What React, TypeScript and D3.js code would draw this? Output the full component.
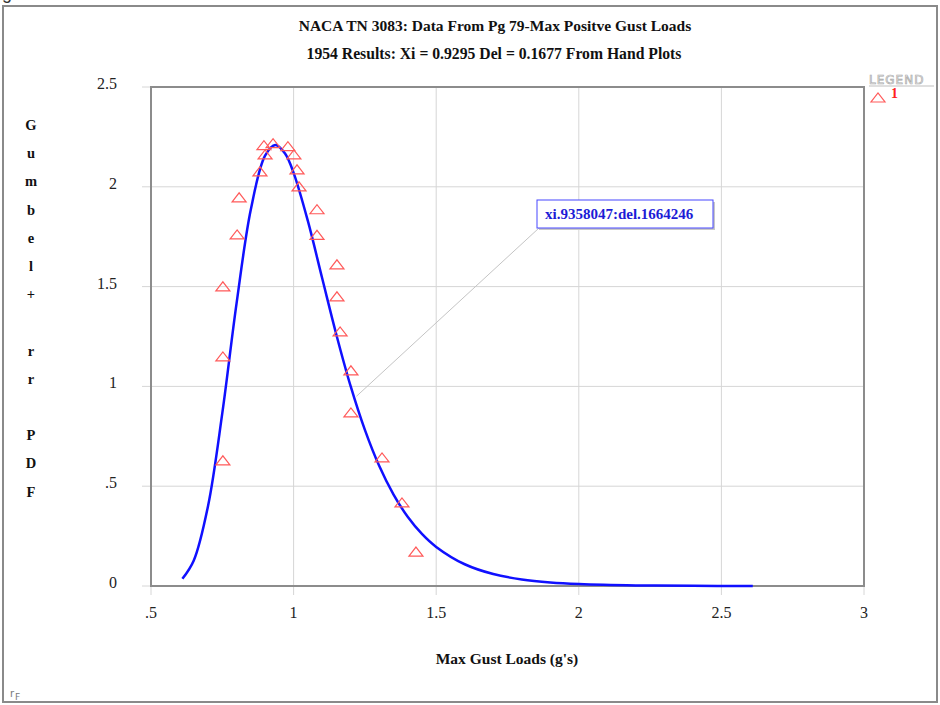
import React from "react";
import * as d3 from "d3";

const obsX = [0.896, 0.928, 0.98, 0.9, 1.001, 0.882, 1.012, 1.019, 0.809, 1.082, 0.802, 1.082, 1.152, 0.752, 1.152, 0.752, 1.163, 1.201, 1.201, 0.752, 1.31, 1.38, 1.429];
const obsY = [2.206, 2.216, 2.201, 2.16, 2.16, 2.075, 2.085, 2.0, 1.945, 1.885, 1.759, 1.757, 1.609, 1.499, 1.449, 1.148, 1.273, 1.078, 0.867, 0.627, 0.642, 0.416, 0.17];

// fitted gumbel curve
const fitX = [0.61, 0.65, 0.7, 0.75, 0.8, 0.85, 0.9, 0.936, 0.97, 1.0, 1.05, 1.1, 1.15, 1.2, 1.25, 1.3, 1.35, 1.4, 1.45, 1.5, 1.6, 1.7, 1.8, 1.9, 2.0, 2.2, 2.4, 2.61];
const fitY = [0.036, 0.128, 0.401, 0.866, 1.416, 1.886, 2.156, 2.21, 2.167, 2.07, 1.829, 1.543, 1.259, 1.001, 0.782, 0.602, 0.459, 0.347, 0.261, 0.196, 0.109, 0.06, 0.033, 0.018, 0.01, 0.003, 0.001, 0.0003];

const xTicks = [0.5, 1, 1.5, 2, 2.5, 3];
const xTickLabels = [".5", "1", "1.5", "2", "2.5", "3"];
const yTicks = [0, 0.5, 1, 1.5, 2, 2.5];
const yTickLabels = ["0", ".5", "1", "1.5", "2", "2.5"];
const yTitle = ["G", "u", "m", "b", "e", "l", "+", "", "r", "r", "", "P", "D", "F"];

const title = "NACA TN 3083: Data From Pg 79-Max Positve Gust Loads";
const subtitle = "1954 Results: Xi = 0.9295 Del = 0.1677 From Hand Plots";
const xTitle = "Max Gust Loads (g's)";
const noteText = "xi.9358047:del.1664246";
const notePoint = [1.22, 0.95];

export default function App() {
  const svgRef = React.useRef(null);
  const width = 940;
  const height = 705;

  React.useEffect(() => {
    const x = d3.scaleLinear().domain([0.5, 3]).range([151, 864]);
    const y = d3.scaleLinear().domain([0, 2.5]).range([586, 87]);

    const svg = d3.select(svgRef.current);
    svg.selectAll("*").remove();

    const serif = "'Liberation Serif', 'Times New Roman', serif";

    svg.append("rect").attr("width", width).attr("height", height).attr("fill", "white");

    // outer frame
    svg.append("rect")
      .attr("x", 3).attr("y", 6).attr("width", 934).attr("height", 696)
      .attr("fill", "none").attr("stroke", "#8a8a8a").attr("stroke-width", 2);

    // fragment of caption above
    svg.append("text").attr("x", 2).attr("y", -1).attr("font-size", 18)
      .attr("font-family", "Arial, sans-serif").attr("fill", "#333").text("g");

    // titles
    svg.append("text").attr("x", 495).attr("y", 31).attr("text-anchor", "middle")
      .attr("font-family", serif).attr("font-weight", "bold").attr("font-size", 15.5)
      .attr("fill", "#111").text(title);
    svg.append("text").attr("x", 494).attr("y", 59).attr("text-anchor", "middle")
      .attr("font-family", serif).attr("font-weight", "bold").attr("font-size", 15.7)
      .attr("fill", "#111").text(subtitle);

    // grid
    const grid = svg.append("g").attr("stroke", "#d6d6d6").attr("stroke-width", 1);
    grid.selectAll("line.v").data(xTicks).enter().append("line")
      .attr("x1", d => x(d)).attr("x2", d => x(d))
      .attr("y1", y(2.5)).attr("y2", y(0) + 9);
    grid.selectAll("line.h").data(yTicks).enter().append("line")
      .attr("x1", x(0.5) - 9).attr("x2", x(3))
      .attr("y1", d => y(d)).attr("y2", d => y(d));

    // plot frame
    svg.append("rect")
      .attr("x", x(0.5)).attr("y", y(2.5))
      .attr("width", x(3) - x(0.5)).attr("height", y(0) - y(2.5))
      .attr("fill", "none").attr("stroke", "#8c8c8c").attr("stroke-width", 2);

    // tick labels
    svg.selectAll("text.xt").data(xTicks).enter().append("text")
      .attr("x", d => x(d)).attr("y", 618).attr("text-anchor", "middle")
      .attr("font-family", serif).attr("font-size", 16).attr("fill", "#222")
      .text((d, i) => xTickLabels[i]);
    svg.selectAll("text.yt").data(yTicks).enter().append("text")
      .attr("x", 117).attr("y", d => y(d) + 2).attr("text-anchor", "end")
      .attr("font-family", serif).attr("font-size", 16).attr("fill", "#222")
      .text((d, i) => yTickLabels[i]);

    // axis titles
    svg.append("text").attr("x", 507).attr("y", 664).attr("text-anchor", "middle")
      .attr("font-family", serif).attr("font-weight", "bold").attr("font-size", 15.5)
      .attr("fill", "#111").text(xTitle);
    svg.selectAll("text.ytl").data(yTitle).enter().append("text")
      .attr("x", 31).attr("y", (d, i) => 130 + i * 28.2).attr("text-anchor", "middle")
      .attr("font-family", serif).attr("font-weight", "bold").attr("font-size", 14.5)
      .attr("fill", "#111").text(d => d);

    // annotation leader + box
    svg.append("line")
      .attr("x1", x(notePoint[0])).attr("y1", y(notePoint[1]))
      .attr("x2", 539).attr("y2", 228)
      .attr("stroke", "#c4c4c4").attr("stroke-width", 1);

    // fitted curve
    const line = d3.line<number>()
      .x((d, i) => x(fitX[i]))
      .y(d => y(d))
      .curve(d3.curveCatmullRom);
    svg.append("path").datum(fitY).attr("d", line)
      .attr("fill", "none").attr("stroke", "#1010ff").attr("stroke-width", 2.5);

    // triangles
    const tri = "M-7,4L7,4L0,-5Z";
    svg.selectAll("path.tri").data(obsX).enter().append("path")
      .attr("d", tri)
      .attr("transform", (d, i) => `translate(${x(d)},${y(obsY[i])})`)
      .attr("fill", "none").attr("stroke", "#ff5a5a").attr("stroke-width", 1.2);

    svg.append("rect").attr("x", 539).attr("y", 202).attr("width", 176).attr("height", 28)
      .attr("fill", "#c8c8c8");
    svg.append("rect").attr("x", 537).attr("y", 200).attr("width", 176).attr("height", 28)
      .attr("fill", "white").attr("stroke", "#4646ff").attr("stroke-width", 1);
    svg.append("text").attr("x", 545).attr("y", 219)
      .attr("font-family", serif).attr("font-weight", "bold").attr("font-size", 15)
      .attr("fill", "#1c1cd6").text(noteText);

    // legend
    svg.append("text").attr("x", 869).attr("y", 84)
      .attr("font-family", "'DejaVu Sans', sans-serif").attr("font-size", 12)
      .attr("letter-spacing", 1).attr("fill", "white").attr("stroke", "#a8a8a8")
      .attr("stroke-width", 0.7).text("LEGEND");
    svg.append("line").attr("x1", 869).attr("x2", 934).attr("y1", 86).attr("y2", 86)
      .attr("stroke", "#d4d4d4").attr("stroke-width", 1.5);
    svg.append("path").attr("d", tri).attr("transform", "translate(878,98)")
      .attr("fill", "none").attr("stroke", "#ff5a5a").attr("stroke-width", 1.2);
    svg.append("text").attr("x", 891).attr("y", 98)
      .attr("font-family", serif).attr("font-weight", "bold").attr("font-size", 14)
      .attr("fill", "#ff2020").text("1");

    // corner mark
    svg.append("text").attr("x", 10).attr("y", 697)
      .attr("font-family", "'DejaVu Sans', sans-serif").attr("font-size", 10)
      .attr("fill", "#777").text("r");
    svg.append("text").attr("x", 15).attr("y", 700)
      .attr("font-family", "'DejaVu Sans', sans-serif").attr("font-size", 9)
      .attr("fill", "#777").text("F");
  }, []);

  return (
    <svg ref={svgRef} width={width} height={height}
      style={{ position: "absolute", left: 0, top: 0 }} />
  );
}
